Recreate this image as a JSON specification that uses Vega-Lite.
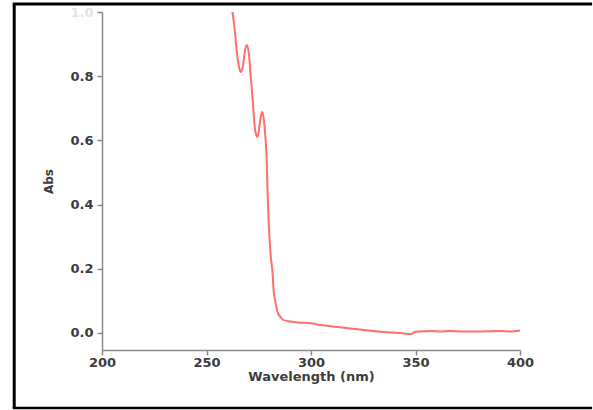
{
  "$schema": "https://vega.github.io/schema/vega-lite/v6.json",
  "width": 418,
  "height": 338,
  "autosize": {"type": "none"},
  "padding": {"left": 102, "top": 12, "right": 73, "bottom": 60},
  "background": "white",
  "config": {"view": {"stroke": null}, "font": "DejaVu Sans"},
  "layer": [
    {
      "data": {"values": [{"frame": 1}]},
      "mark": {"type": "rule", "stroke": "black", "strokeWidth": 3, "clip": false},
      "encoding": {
        "x": {"datum": 158.0, "type": "quantitative"},
        "y": {"datum": 1.025, "type": "quantitative"},
        "y2": {"datum": -0.2336}
      }
    },
    {
      "data": {"values": [{"frame": 1}]},
      "mark": {"type": "rule", "stroke": "black", "strokeWidth": 3, "clip": false},
      "encoding": {
        "x": {"datum": 157.3, "type": "quantitative"},
        "x2": {"datum": 434.5},
        "y": {"datum": 1.025, "type": "quantitative"}
      }
    },
    {
      "data": {"values": [{"frame": 1}]},
      "mark": {"type": "rule", "stroke": "black", "strokeWidth": 2.5, "clip": false},
      "encoding": {
        "x": {"datum": 157.3, "type": "quantitative"},
        "x2": {"datum": 434.5},
        "y": {"datum": -0.2336, "type": "quantitative"}
      }
    },
    {
      "data": {"values": [
        {"wl": 261.6, "abs": 1.02},
        {"wl": 262.5, "abs": 0.997},
        {"wl": 263.5, "abs": 0.944},
        {"wl": 264.4, "abs": 0.882},
        {"wl": 265.4, "abs": 0.835},
        {"wl": 266.3, "abs": 0.813},
        {"wl": 267.3, "abs": 0.826},
        {"wl": 268.3, "abs": 0.875},
        {"wl": 269.2, "abs": 0.897},
        {"wl": 270.2, "abs": 0.875},
        {"wl": 271.1, "abs": 0.804},
        {"wl": 272.1, "abs": 0.726},
        {"wl": 273.0, "abs": 0.648},
        {"wl": 274.0, "abs": 0.614},
        {"wl": 274.5, "abs": 0.611},
        {"wl": 275.4, "abs": 0.648},
        {"wl": 276.4, "abs": 0.688},
        {"wl": 276.8, "abs": 0.688},
        {"wl": 277.3, "abs": 0.670},
        {"wl": 278.3, "abs": 0.601},
        {"wl": 278.8, "abs": 0.539},
        {"wl": 279.2, "abs": 0.445},
        {"wl": 279.7, "abs": 0.352},
        {"wl": 280.7, "abs": 0.243},
        {"wl": 281.6, "abs": 0.187},
        {"wl": 282.1, "abs": 0.134},
        {"wl": 283.1, "abs": 0.093},
        {"wl": 284.0, "abs": 0.065},
        {"wl": 285.4, "abs": 0.050},
        {"wl": 286.9, "abs": 0.040},
        {"wl": 290.2, "abs": 0.036},
        {"wl": 293.6, "abs": 0.033},
        {"wl": 299.8, "abs": 0.030},
        {"wl": 304.5, "abs": 0.025},
        {"wl": 312.6, "abs": 0.019},
        {"wl": 318.9, "abs": 0.014},
        {"wl": 325.1, "abs": 0.009},
        {"wl": 334.6, "abs": 0.003},
        {"wl": 342.7, "abs": 0.000},
        {"wl": 347.5, "abs": -0.003},
        {"wl": 348.4, "abs": -0.002},
        {"wl": 349.4, "abs": 0.003},
        {"wl": 352.3, "abs": 0.005},
        {"wl": 357.0, "abs": 0.006},
        {"wl": 361.8, "abs": 0.005},
        {"wl": 366.6, "abs": 0.006},
        {"wl": 371.4, "abs": 0.005},
        {"wl": 380.9, "abs": 0.005},
        {"wl": 390.5, "abs": 0.006},
        {"wl": 395.2, "abs": 0.005},
        {"wl": 400.0, "abs": 0.008}
      ]},
      "mark": {"type": "line", "color": "#ff6f6f", "strokeWidth": 2, "clip": true, "interpolate": "monotone"},
      "encoding": {
        "x": {
          "field": "wl", "type": "quantitative",
          "scale": {"domain": [200, 400], "nice": false, "zero": false},
          "axis": {
            "title": "Wavelength (nm)", "values": [200, 250, 300, 350, 400], "format": "d",
            "grid": false, "domainColor": "#888", "domainWidth": 1.5, "tickColor": "#888", "tickWidth": 1.5, "tickSize": 5,
            "labelFlush": false, "labelOverlap": false,
            "labelFont": "DejaVu Sans", "labelFontSize": 13, "labelFontWeight": "bold", "labelColor": "#3c3c3c", "labelPadding": 1,
            "titleFont": "DejaVu Sans", "titleFontSize": 13, "titleFontWeight": "bold", "titleColor": "#3c3c3c", "titlePadding": 1
          }
        },
        "y": {
          "field": "abs", "type": "quantitative",
          "scale": {"domain": [-0.053, 1.0], "nice": false, "zero": false},
          "axis": {
            "title": "Abs", "values": [0, 0.2, 0.4, 0.6, 0.8, 1.0], "format": ".1f",
            "grid": false, "domainColor": "#888", "domainWidth": 1.5, "tickColor": "#888", "tickWidth": 1.5, "tickSize": 5,
            "labelFlush": false, "labelOverlap": false,
            "labelFont": "DejaVu Sans", "labelFontSize": 13, "labelFontWeight": "bold", "labelPadding": 4,
            "labelColor": {"condition": {"test": "datum.value >= 1", "value": "#e4e4e4"}, "value": "#3c3c3c"},
            "titleFont": "DejaVu Sans", "titleFontSize": 12, "titleFontWeight": "bold", "titleColor": "#3c3c3c", "titlePadding": 14
          }
        }
      }
    }
  ]
}
